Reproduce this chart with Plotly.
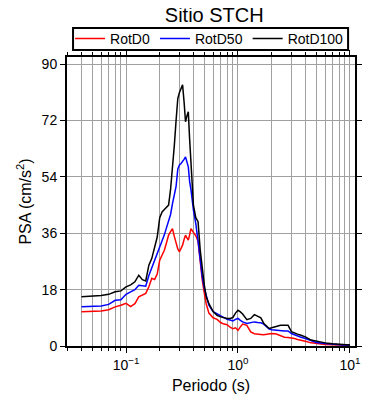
import plotly.graph_objects as go

periods = [0.04, 0.05, 0.06, 0.07, 0.08, 0.09, 0.1, 0.11, 0.12, 0.13, 0.14, 0.15, 0.16, 0.17,
           0.18, 0.19, 0.2, 0.21, 0.22, 0.23, 0.24, 0.25, 0.26, 0.27, 0.28, 0.29, 0.30, 0.31,
           0.32, 0.33, 0.34, 0.35, 0.36, 0.37, 0.38, 0.40, 0.42, 0.44, 0.46, 0.48, 0.50, 0.52,
           0.55, 0.60, 0.65, 0.70, 0.75, 0.80, 0.85, 0.90, 0.95, 1.0, 1.05, 1.1, 1.2, 1.3, 1.4,
           1.5, 1.6, 1.7, 1.8, 1.9, 2.0, 2.2, 2.4, 2.6, 2.8, 3.0, 3.2, 3.4, 3.6, 4.0, 4.5, 5.0,
           6.0, 7.0, 8.0, 9.0, 10.0]

rotd100 = [15.7, 15.9, 16.1, 16.5, 17.3, 17.6, 18.9, 19.5, 20.5, 22.6, 21.2, 20.8, 25.8, 28.0,
           31.5, 34.8, 41.0, 42.8, 43.6, 44.3, 45.0, 50.0, 56.0, 64.0, 72.0, 79.0, 81.0, 82.5,
           83.4, 78.0, 71.6, 73.5, 74.8, 66.0, 58.0, 45.0, 41.0, 39.7, 30.6, 24.0, 19.5, 15.8,
           13.5, 11.0, 9.8, 9.3, 9.0, 8.8, 8.8, 9.1, 10.5, 11.4, 10.9, 10.2, 8.4, 8.8, 10.0,
           9.6, 9.0, 7.2, 6.4, 5.6, 5.8, 6.2, 6.6, 6.6, 6.6, 4.6, 4.1, 3.8, 3.5, 2.9, 1.9, 1.5,
           1.0, 0.7, 0.5, 0.4, 0.3]

rotd50 = [12.5, 12.6, 12.8, 13.3, 14.6, 14.8, 16.5, 17.3, 18.0, 19.4, 19.3, 19.1, 22.5, 25.0,
          27.0, 29.5, 31.5, 33.5, 35.5, 37.8, 40.0, 42.0, 45.5, 48.5, 51.0, 56.5, 57.8, 58.3,
          58.8, 59.6, 60.4, 58.5, 57.2, 52.5, 50.0, 43.4, 39.1, 33.5, 27.5, 22.0, 18.5, 16.0,
          13.0, 11.0, 10.3, 9.5, 9.0, 8.5, 8.3, 8.0, 8.5, 8.8, 8.2, 7.7, 7.2, 7.5, 7.7,
          7.5, 7.4, 7.0, 6.1, 5.4, 5.2, 5.0, 4.9, 4.8, 4.8, 4.0, 3.6, 3.2, 2.9, 2.4, 1.6, 1.1,
          0.8, 0.5, 0.4, 0.3, 0.3]

rotd0 = [10.9, 11.0, 11.2, 11.6, 12.5, 13.0, 13.6, 12.6, 13.5, 15.7, 16.4, 16.8, 18.9, 21.6,
         21.2, 23.0, 27.4, 29.0, 30.6, 33.0, 35.4, 36.5, 37.5, 35.0, 32.5, 31.0, 30.1, 31.0,
         32.2, 34.0, 35.4, 34.5, 33.8, 35.5, 37.5, 36.3, 35.2, 33.5, 26.0, 21.0, 17.0, 13.5,
         10.5, 9.0, 8.5, 7.5, 7.0, 6.8, 6.0, 5.5, 5.8, 5.0, 6.1, 7.0, 6.6, 4.5, 3.9,
         3.7, 3.7, 3.6, 3.7, 3.9, 4.0, 3.8, 3.3, 2.8, 2.7, 2.6, 2.4, 2.1, 1.8, 1.5, 1.0, 0.8,
         0.5, 0.4, 0.3, 0.2, 0.2]

x_tick_vals = [0.1, 1, 10]
x_tick_text = ["10<sup>\u22121</sup>", "10<sup>0</sup>", "10<sup>1</sup>"]
y_tick_vals = [0, 18, 36, 54, 72, 90]

series = [("RotD0", rotd0, "#ff0000"), ("RotD50", rotd50, "#0000ff"), ("RotD100", rotd100, "#000000")]

fig = go.Figure()
for name, vals, col in series:
    fig.add_trace(go.Scatter(x=periods, y=vals, mode="lines", name=name,
                             line=dict(color=col, width=1.5)))

font_family = "Liberation Sans, Arial, sans-serif"
fig.update_layout(
    width=382, height=392,
    margin=dict(l=59, r=35, t=49, b=54, autoexpand=False),
    paper_bgcolor="white", plot_bgcolor="white",
    font=dict(family=font_family, color="black", size=14),
    title=dict(text="Sitio STCH", x=0.54, xanchor="center", y=0.982, yanchor="middle",
               font=dict(size=20, family=font_family, color="black")),
    showlegend=True,
    legend=dict(orientation="h", x=0.495, xanchor="center", y=1.063, yanchor="middle",
                borderwidth=0, bgcolor="rgba(0,0,0,0)",
                font=dict(size=14), itemwidth=30, tracegroupgap=0),
    shapes=[dict(type="rect", xref="paper", yref="paper",
                 x0=0.021, x1=0.976, y0=1.024, y1=1.100,
                 line=dict(color="black", width=2), fillcolor="rgba(0,0,0,0)")],
    xaxis=dict(type="log", range=[-1.527, 1.045],
               tickvals=x_tick_vals, ticktext=x_tick_text,
               ticks="outside", ticklen=5, tickcolor="black",
               showline=True, linecolor="black", linewidth=2, mirror="allticks",
               showgrid=True, gridcolor="#a0a0a0", gridwidth=1,
               minor=dict(dtick="D1", showgrid=True, gridcolor="#a0a0a0", gridwidth=1,
                          ticks="outside", ticklen=3, tickcolor="black"),
               zeroline=False, automargin=False,
               title=dict(text="Periodo (s)", font=dict(size=16), standoff=8),
               tickfont=dict(size=14)),
    yaxis=dict(range=[0, 92.3], tickvals=y_tick_vals,
               ticks="outside", ticklen=5, tickcolor="black",
               showline=True, linecolor="black", linewidth=2, mirror="allticks",
               showgrid=True, gridcolor="#a0a0a0", gridwidth=1, zeroline=False,
               automargin=False,
               title=dict(text="PSA (cm/s<sup>2</sup>)", font=dict(size=16), standoff=6),
               tickfont=dict(size=14)),
)

fig.write_html("out.html")
